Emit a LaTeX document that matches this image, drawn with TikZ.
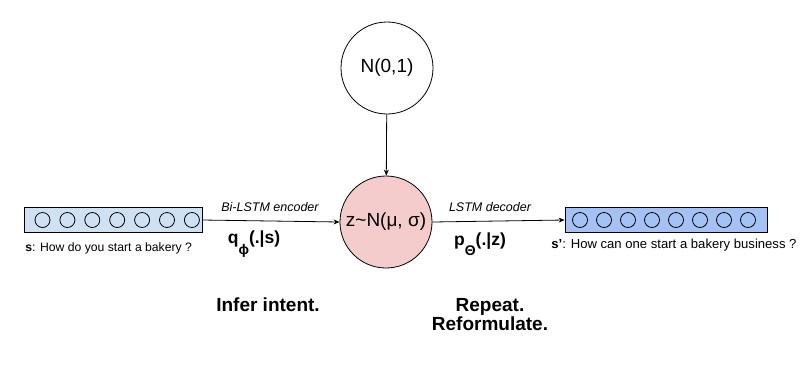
\documentclass[tikz,border=0pt]{standalone}
\usepackage{fontspec}
\setmainfont{Liberation Sans}
\usetikzlibrary{arrows.meta}

\definecolor{encfill}{HTML}{CFE2F3}
\definecolor{decfill}{HTML}{A4C2F4}
\definecolor{zfill}{HTML}{F4CCCC}

\newcommand{\fsz}[1]{\fontsize{#1}{#1}\selectfont}

\begin{document}
\begin{tikzpicture}[x=1pt,y=-1pt,line width=0.8pt,
    every node/.style={inner sep=0pt},
    vecbox/.style={draw,minimum height=25pt},
    unit/.style={draw,circle,minimum size=15pt},
    dist/.style={draw,circle,minimum size=92pt,font=\fsz{19}},
    arrlab/.style={font=\itshape\fsz{12.5}},
    prob/.style={font=\bfseries\fsz{17.5}},
    note/.style={font=\bfseries\fsz{19},align=center},
    sent/.style={anchor=base west,font=\fsz{12.5}},
    link/.style={-{Stealth[length=6pt,width=5pt]}}]

    \useasboundingbox (0,0) rectangle (810,365);

    % latent variable and its prior
    \node[dist] (prior) at (387,68) {N(0,1)};
    \node[dist,fill=zfill] (z) at (386,222) {z\textasciitilde N(μ, σ)};

    % input sentence vector
    \node[vecbox,fill=encfill,minimum width=178pt] (enc) at (113,220) {};
    \foreach \i in {0,...,6} {
        \node[unit] (e\i) at (42.5+\i*24.9,220) {};
    }
    \node[sent,font=\fsz{12.2}] (src) at (25,251) {\textbf{s}: How do you start a bakery ?};

    % output sentence vector
    \node[vecbox,fill=decfill,minimum width=202pt] (dec) at (666,220) {};
    \foreach \i in {0,...,7} {
        \node[unit] (d\i) at (580+\i*24,220) {};
    }
    \node[sent,font=\fsz{13.1}] (tgt) at (551,248) {\textbf{s’}: How can one start a bakery business ?};

    % connectors
    \draw[link] (prior) -- (z);
    \draw[link] (enc.east) -- (z.west);
    \draw[link] (z.east) -- (dec.west);

    \node[arrlab] (enclab) at (270,207) {Bi-LSTM encoder};
    \node[arrlab] (declab) at (490,207) {LSTM decoder};

    \node[prob] (q) at (254,244) {q\raisebox{-0.6em}{\fsz{14}ϕ}(.|s)};
    \node[prob] (p) at (480,244) {p\raisebox{-0.6em}{\fsz{14}Θ}(.|z)};

    \node[note] (infer) at (268,305) {Infer intent.};
    \node[note] (repeat) at (490,315) {Repeat.\\Reformulate.};
\end{tikzpicture}
\end{document}
